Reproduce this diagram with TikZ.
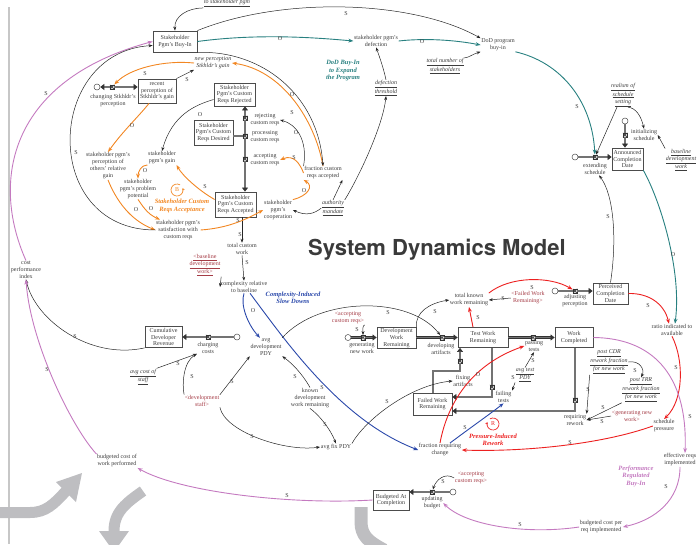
\documentclass[tikz,border=0pt]{standalone}
\usepackage{fontspec}
\setmainfont{Liberation Serif}
\newfontfamily\titlefont{TeX Gyre Heros}
\usetikzlibrary{arrows.meta}
\definecolor{tealc}{RGB}{40,128,128}
\definecolor{orgc}{RGB}{242,135,35}
\definecolor{pinkc}{RGB}{196,122,192}
\definecolor{redc}{RGB}{236,32,32}
\definecolor{bluec}{RGB}{42,72,170}
\definecolor{shc}{RGB}{165,60,70}
\definecolor{txtc}{RGB}{60,60,60}
\definecolor{bandc}{RGB}{190,190,193}
\definecolor{titlec}{RGB}{58,58,58}
\begin{document}
\begin{tikzpicture}[x=1pt,y=-1pt,
  txt/.style={align=center, inner sep=0.5pt, font=\fontsize{6}{7}\selectfont, text=txtc},
  itx/.style={txt, font=\fontsize{6}{7}\selectfont\itshape},
  und/.style={txt, font=\fontsize{6}{7}\selectfont\itshape},
  shadow/.style={txt, text=shc},
  loopt/.style={align=center, inner sep=0pt, font=\fontsize{6.5}{7.5}\selectfont\bfseries\itshape},
  stock/.style={draw=black!70, line width=0.8pt, fill=white, align=center, inner sep=1pt, font=\fontsize{6}{6.6}\selectfont, text=txtc},
  lbl/.style={inner sep=0pt, font=\fontsize{6}{6}\selectfont, text=txtc},
  arr/.style={draw=black!85, line width=0.5pt, -{Stealth[length=4pt,width=3pt]}},
  carr/.style={line width=0.9pt, -{Stealth[length=5pt,width=3.8pt]}},
  tarr/.style={carr, draw=tealc},
  oarr/.style={carr, draw=orgc},
  parr/.style={carr, draw=pinkc},
  rarr/.style={carr, draw=redc},
  barr/.style={carr, draw=bluec},
  pipeline/.style={draw=black!80, line width=0.6pt, double=black!55, double distance=1.1pt},
  pipe/.style={pipeline, -{Triangle[length=4pt,width=6pt]}},
  valve/.style={draw=black!80, fill=black!15, line width=0.4pt, inner sep=0pt, minimum width=4.5pt, minimum height=4.5pt, shape=rectangle,
    path picture={\draw[black!80, line width=0.5pt] (path picture bounding box.north west) -- (path picture bounding box.south east) (path picture bounding box.north east) -- (path picture bounding box.south west);}},
  sink/.style={circle, draw=black!70, line width=0.5pt, fill=white, inner sep=0pt, minimum size=6pt},
  band/.style={draw=bandc, line width=11pt}
]
\useasboundingbox (0,0) rectangle (698,544);

% background decorations
\draw[black!22, line width=1.3pt] (9,7) -- (9,544);
\draw[band] (0,512.5) -- (30,512.5) .. controls (46,512.5) and (54,504) .. (66,491);
\fill[bandc] (82,473) -- (56,482) -- (76,502) -- cycle;
\draw[band] (143,491) .. controls (126,503) and (114,512) .. (114,531);
\fill[bandc] (99,531) -- (129,531) -- (114,552) -- cycle;
\draw[band, line width=13pt] (361,507) -- (361,522) .. controls (361,536) and (369,542) .. (384,550);

% title
\node[anchor=base west, inner sep=0pt, font={\titlefont\fontsize{22}{24}\selectfont\bfseries}, text=titlec] (title) at (308,255) {System Dynamics Model};

% stocks
\node[stock, minimum width=44pt, minimum height=21pt] (buyin) at (175,41.5) {Stakeholder\\Pgm's Buy-In};
\node[stock, minimum width=38pt, minimum height=24pt] (recent) at (157,91) {recent\\perception of\\Stkhldr's gain};
\node[stock, minimum width=41pt, minimum height=23pt] (rejected) at (234.5,94.5) {Stakeholder\\Pgm's Custom\\Reqs Rejected};
\node[stock, minimum width=39pt, minimum height=25pt] (desired) at (213.5,132.5) {Stakeholder\\Pgm's Custom\\Reqs Desired};
\node[stock, minimum width=41pt, minimum height=25pt] (accepted) at (235.5,204.5) {Stakeholder\\Pgm's Custom\\Reqs Accepted};
\node[stock, minimum width=31pt, minimum height=22pt] (announced) at (627.5,159) {Announced\\Completion\\Date};
\node[stock, minimum width=35pt, minimum height=21pt] (perceived) at (610.5,293.5) {Perceived\\Completion\\Date};
\node[stock, minimum width=50pt, minimum height=20pt] (testbox) at (483,337.5) {Test Work\\Remaining};
\node[stock, minimum width=38pt, minimum height=20pt] (workcomp) at (574,337.5) {Work\\Completed};
\node[stock, minimum width=39pt, minimum height=21pt] (devbox) at (396.5,338) {Development\\Work\\Remaining};
\node[stock, minimum width=39pt, minimum height=22pt] (failedbox) at (432.5,404) {Failed Work\\Remaining};
\node[stock, minimum width=37pt, minimum height=21pt] (cumul) at (163.5,337) {Cumulative\\Developer\\Revenue};
\node[stock, minimum width=36pt, minimum height=20pt] (bac) at (391,500) {Budgeted At\\Completion};

% sinks and valves
\node[sink] (cloudA) at (625,121) {};
\node[valve] (vinit) at (625,135) {};
\node[sink] (cloudB) at (575,157) {};
\node[valve] (vext) at (595,157) {};
\node[sink] (cloudC) at (97,87) {};
\node[valve] (vchg) at (112,87) {};
\node[valve] (vrej) at (245,118) {};
\node[valve] (vproc) at (245,136) {};
\node[valve] (vacc) at (245,159) {};
\node[sink] (cloudD) at (237,337) {};
\node[valve] (vchgc) at (208,337) {};
\node[sink] (cloudE) at (453,492) {};
\node[valve] (vupd) at (432,492) {};
\node[sink] (cloudF) at (555,291) {};
\node[valve] (vadj) at (575,291) {};
\node[sink] (cloudG) at (348,337.5) {};
\node[valve] (vgen) at (363,337.5) {};
\node[valve] (vdev) at (442,337.5) {};
\node[valve] (vpass) at (533,337.5) {};
\node[valve] (vfix) at (460,361) {};
\node[valve] (vfail) at (492,387) {};
\node[valve] (vrew) at (575,400) {};
\coordinate (cfa) at (433,371);
\coordinate (cfb) at (460,371);
\coordinate (cfc) at (492,397);
\coordinate (cfd) at (575,411);

% variables
\node[und] (topsrc) at (227,3.5) {\underline{to stakeholder pgm}};
\node[txt] (defection) at (376,41) {stakeholder pgm's\\defection};
\node[txt] (dod) at (498,45) {DoD program\\buy-in};
\node[und] (totalstake) at (445,66) {\underline{total number of}\\\underline{stakeholders}};
\node[und] (defthresh) at (386,88) {\underline{defection}\\\underline{threshold}};
\node[loopt, text=tealc] (dodloop) at (343,71) {DoD Buy-In\\to Expand\\the Program};
\node[und] (realism) at (623,95) {\underline{realism of}\\\underline{schedule}\\\underline{setting}};
\node[txt] (initlbl) at (644,135) {initializing\\schedule};
\node[und] (baseline) at (681,160) {\underline{baseline}\\\underline{development}\\\underline{work}};
\node[txt] (extlbl) at (595,169) {extending\\schedule};
\node[itx] (newperc) at (213,63) {new perception\\Stkhldr's gain};
\node[txt] (chglbl) at (113,101) {changing Stkhldr's\\perception};
\node[txt] (percothers) at (108,166) {stakeholder pgm's\\perception of\\others' relative\\gain};
\node[txt] (gain) at (162,158) {stakeholder\\pgm's gain};
\node[txt] (problem) at (138,189) {stakeholder\\pgm's problem\\potential};
\node[txt, text=orgc] (bloop) at (177,190) {B};
\node[loopt, text=orgc] (accloop) at (182,206) {Stakeholder Custom\\Reqs Acceptance};
\node[txt] (satisf) at (178,230) {stakeholder pgm's\\satisfaction with\\custom reqs};
\node[txt] (rejlbl) at (265,120) {rejecting\\custom reqs};
\node[txt] (proclbl) at (265,137) {processing\\custom reqs};
\node[txt] (acclbl) at (265,160) {accepting\\custom reqs};
\node[txt] (fracacc) at (323,173) {fraction custom\\reqs accepted};
\node[txt] (coop) at (278,210) {stakeholder\\pgm's\\cooperation};
\node[und] (authority) at (333,208) {\underline{authority}\\\underline{mandate}};
\node[txt] (totalcw) at (242,249) {total custom\\work};
\node[txt] (complexity) at (244,287) {complexity relative\\to baseline};
\node[shadow] (baselineR) at (205,265) {\underline{<baseline}\\\underline{development}\\\underline{work>}};
\node[txt] (chargelbl) at (208,347.5) {charging\\costs};
\node[txt] (cpi) at (26,270) {cost\\performance\\index};
\node[und] (avgcost) at (143,377) {\underline{avg cost of}\\\underline{staff}};
\node[shadow] (devstaff) at (202,401) {<development\\staff>};
\node[txt] (avgdev) at (266,347) {avg\\development\\PDY};
\node[loopt, text=bluec] (complloop) at (293,298) {Complexity-Induced\\Slow Downs};
\node[txt] (known) at (310,398) {known\\development\\work remaining};
\node[txt] (avgfix) at (336,447) {avg fix PDY};
\node[txt] (bcwp) at (117,461) {budgeted cost of\\work performed};
\node[txt] (updlbl) at (432,503) {updating\\budget};
\node[shadow] (accR2) at (471,478) {<accepting\\custom reqs>};
\node[txt] (bcpr) at (601,527) {budgeted cost per\\req implemented};
\node[txt] (effreq) at (680,460) {effective reqs\\implemented};
\node[loopt, text=pinkc] (perfloop) at (636,476) {Performance\\Regulated\\Buy-In};
\node[txt] (schedpress) at (664,426) {schedule\\pressure};
\node[txt] (fracreq) at (440,450) {fraction requiring\\change};
\node[txt, text=redc] (rloop) at (493,424) {R};
\node[loopt, text=redc] (pressloop) at (493,440) {Pressure-Induced\\Rework};
\node[txt] (ratio) at (672,330) {ratio indicated to\\available};
\node[txt] (adjlbl) at (575,301) {adjusting\\perception};
\node[txt] (totalknown) at (469,300) {total known\\work remaining};
\node[shadow] (failedR) at (528,298) {<Failed Work\\Remaining>};
\node[txt] (passlbl) at (534,346) {passing\\tests};
\node[und] (avgtest) at (525,375) {\underline{avg test}\\\underline{PDY}};
\node[txt] (genlbl) at (362,348) {generating\\new work};
\node[shadow] (accR1) at (348,318) {<accepting\\custom reqs>};
\node[txt] (devlbl) at (441,349) {developing\\artifacts};
\node[txt] (fixlbl) at (463,381) {fixing\\artifacts};
\node[txt, anchor=west] (faillbl) at (495,397) {failing\\tests};
\node[txt] (reworklbl) at (575,420) {requiring\\rework};
\node[und] (postcdr) at (609,362) {\underline{post CDR}\\\underline{rework fraction}\\\underline{for new work}};
\node[und] (posttrr) at (641,390) {\underline{post TRR}\\\underline{rework fraction}\\\underline{for new work}};
\node[shadow] (genR) at (632,416) {<generating new\\work>};

% pipes
\draw[pipeline] (cloudA) -- (vinit);
\draw[pipe] (vinit) -- (announced.north -| vinit);
\draw[pipeline] (cloudB) -- (vext);
\draw[pipe] (vext) -- (announced.west |- vext);
\draw[pipe] (vchg) -- (cloudC);
\draw[pipe] (vchg) -- (recent.west |- vchg);
\draw[pipeline] (desired.east |- vproc) -- (vproc);
\draw[pipeline] (vproc) -- (vrej);
\draw[pipe] (vrej) -- (rejected.south -| vrej);
\draw[pipeline] (vproc) -- (vacc);
\draw[pipe] (vacc) -- (accepted.north -| vacc);
\draw[pipeline] (cloudD) -- (vchgc);
\draw[pipe] (vchgc) -- (cumul.east |- vchgc);
\draw[pipeline] (cloudE) -- (vupd);
\draw[pipe] (vupd) -- (bac.east |- vupd);
\draw[pipeline] (cloudF) -- (vadj);
\draw[pipe] (vadj) -- (perceived.west |- vadj);
\draw[pipeline] (cloudG) -- (vgen);
\draw[pipe] (vgen) -- (devbox.west |- vgen);
\draw[pipeline] (devbox.east |- vdev) -- (vdev);
\draw[pipe] (vdev) -- (testbox.west |- vdev);
\draw[pipeline] (testbox.east |- vpass) -- (vpass);
\draw[pipe] (vpass) -- (workcomp.west |- vpass);
\draw[pipeline] (failedbox.north -| cfa) -- (cfa) -- (cfb) -- (vfix);
\draw[pipe] (vfix) -- (testbox.south -| vfix);
\draw[pipeline] (testbox.south -| vfail) -- (vfail);
\draw[pipe] (vfail) -- (cfc) -- (failedbox.east |- cfc);
\draw[pipeline] (workcomp.south -| vrew) -- (vrew);
\draw[pipe] (vrew) -- (cfd) -- (failedbox.east |- cfd);

% loop symbols
\draw[orgc, line width=0.7pt, -{Stealth[length=2.5pt,width=2.5pt]}] ([shift={(60:6pt)}]bloop.center) arc[start angle=60, end angle=380, radius=6pt];
\draw[redc, line width=0.7pt, -{Stealth[length=2.5pt,width=2.5pt]}] ([shift={(120:6pt)}]rloop.center) arc[start angle=120, end angle=-200, radius=6pt];

% influences - top
\draw[arr] (topsrc.south west) .. controls (188,8) and (174,16) .. (buyin.north);
\draw[arr] (buyin.north east) .. controls (280,-3) and (410,-1) .. (dod.north west);
\draw[tarr] (buyin.east) .. controls (260,33) and (320,38) .. (defection.west);
\draw[tarr] (defection.east) .. controls (425,38) and (455,40) .. (dod.west);
\draw[arr] (totalstake.north east) .. controls (468,58) and (473,54) .. (dod.south west);
\draw[arr] (defthresh.north) .. controls (384,70) and (380,58) .. (defection.south);
\draw[arr] (authority.north east) .. controls (360,175) and (383,125) .. (defthresh.south);
\draw[tarr] (dod.south east) .. controls (560,62) and (592,100) .. (vext);
\draw[arr] ([xshift=-6pt]realism.south) -- (vext);
\draw[arr] ([xshift=5pt]realism.south) .. controls (636,108) and (641,116) .. (initlbl.north);
\draw[arr] (baseline.north west) -- (initlbl.east);
\draw[tarr] (announced.south east) .. controls (660,200) and (682,270) .. ([xshift=3pt]ratio.north);
\draw[arr] (perceived.north) .. controls (617,240) and (614,195) .. ([xshift=4pt]extlbl.south);
\draw[rarr] (perceived.east) .. controls (648,293) and (664,303) .. ([xshift=-3pt]ratio.north);
\draw[rarr] (ratio.south) .. controls (684,360) and (684,400) .. (schedpress.north);
\draw[parr] (workcomp.east) .. controls (650,338) and (688,372) .. ([xshift=5pt]effreq.north);
\draw[parr] (effreq.south) .. controls (680,500) and (655,520) .. (bcpr.east);
\draw[parr] (bcpr.west) .. controls (525,535) and (465,525) .. (updlbl.east);
\draw[rarr] (schedpress.west) .. controls (600,445) and (520,452) .. (fracreq.east);
\draw[rarr] (fracreq.north) .. controls (447,405) and (470,365) .. (passlbl.west);
\draw[barr] ([xshift=10pt]fracreq.north) .. controls (470,428) and (490,414) .. (faillbl.south);
\draw[barr] ([xshift=6pt]complexity.south) .. controls (285,340) and (340,420) .. (fracreq.west);
\draw[barr] (complexity.south) .. controls (240,305) and (248,325) .. ([xshift=-6pt]avgdev.north);
\draw[arr] (totalcw.south) -- (complexity.north);
\draw[arr] (accepted.south -| totalcw) -- (totalcw.north);
\draw[arr] (baselineR.south east) -- (complexity.west);
\draw[arr] (avgdev.north east) .. controls (320,296) and (410,296) .. (vdev);
\draw[arr] (known.north) .. controls (306,380) and (296,366) .. (avgdev.south east);
\draw[arr] (known.south) .. controls (318,414) and (330,428) .. (avgfix.north);
\draw[arr] (avgfix.north east) .. controls (365,420) and (410,385) .. (fixlbl.west);
\draw[arr] (devstaff.south east) .. controls (225,432) and (285,452) .. (avgfix.west);
\draw[arr] (devstaff.north east) -- (avgdev.south west);
\draw[arr] (devstaff.north west) .. controls (182,385) and (183,362) .. (chargelbl.south west);
\draw[arr] (avgcost.north east) -- (chargelbl.south west);
\draw[arr] (cumul.south west) .. controls (90,360) and (35,320) .. (cpi.south);
\draw[parr] (bcwp.north west) .. controls (70,425) and (30,340) .. (cpi.south);
\draw[parr] (cpi.north) .. controls (-10,180) and (10,80) .. (buyin.west);
\draw[parr] (bac.west) .. controls (290,505) and (180,492) .. (bcwp.south east);
\draw[arr] (accR2.west) .. controls (445,472) and (436,480) .. (vupd);
\draw[rarr] (totalknown.north east) .. controls (510,276) and (550,276) .. (vadj);
\draw[arr] (failedR.west) -- (totalknown.east);
\draw[rarr] ([xshift=-10pt]testbox.north) -- (totalknown.south);
\draw[arr] (devbox.north east) .. controls (415,312) and (430,303) .. (totalknown.west);
\draw[arr] (accR1.south east) .. controls (362,326) and (363,330) .. (vgen);
\draw[arr] (avgtest.north) -- (passlbl.south);
\draw[arr] (avgtest.south west) -- (faillbl.north east);
\draw[arr] (postcdr.east) .. controls (640,360) and (645,370) .. (posttrr.north);
\draw[arr] (postcdr.south west) -- (reworklbl.north east);
\draw[arr] (posttrr.south west) -- (reworklbl.east);
\draw[arr] (genR.west) -- (reworklbl.east);

% influences - stakeholder region
\draw[oarr] (newperc.west) .. controls (165,60) and (130,68) .. (vchg);
\draw[arr] (recent.north east) -- (newperc.south west);
\draw[oarr] ([xshift=-8pt]recent.south) .. controls (140,115) and (122,132) .. (percothers.north);
\draw[oarr] (fracacc.north) .. controls (315,120) and (282,70) .. (newperc.east);
\draw[arr] (buyin.south east) .. controls (262,50) and (318,95) .. (fracacc.north);
\draw[arr] (fracacc.north west) .. controls (308,140) and (296,124) .. (rejlbl.east);
\draw[oarr] (fracacc.west) .. controls (300,164) and (294,154) .. (acclbl.east);
\draw[oarr] (coop.north east) .. controls (308,196) and (314,186) .. (fracacc.south west);
\draw[arr] (authority.west) .. controls (314,214) and (306,216) .. (coop.east);
\draw[arr] (authority.north) -- (fracacc.south east);
\draw[oarr] (satisf.east) .. controls (228,228) and (245,220) .. (coop.west);
\draw[oarr] ([yshift=5pt]accepted.west) .. controls (198,190) and (182,175) .. (gain.south east);
\draw[arr] ([yshift=-5pt]rejected.west) .. controls (195,105) and (172,115) .. (gain.north);
\draw[oarr] (gain.south west) .. controls (141,165) and (138,172) .. (problem.north);
\draw[oarr] (percothers.south) .. controls (116,200) and (130,220) .. (satisf.west);
\draw[oarr] (problem.south) .. controls (142,205) and (147,214) .. ([xshift=-18pt]satisf.north);
\draw[arr] (satisf.west) .. controls (40,230) and (45,52) .. ([yshift=-4pt]buyin.west);

% polarity labels
\node[lbl] (s01) at (346,14) {S};
\node[lbl] (s02) at (280,39) {O};
\node[lbl] (s03) at (422,42) {O};
\node[lbl] (s04) at (577,107) {S};
\node[lbl] (s05) at (145,74) {S};
\node[lbl] (s06) at (187,80) {S};
\node[lbl] (s07) at (132,126) {O};
\node[lbl] (s08) at (46,94) {S};
\node[lbl] (s09) at (200,115) {O};
\node[lbl] (s10) at (292,95) {O};
\node[lbl] (s11) at (292,113) {S};
\node[lbl] (s12) at (296,133) {O};
\node[lbl] (s13) at (76,153) {S};
\node[lbl] (s14) at (145,171) {O};
\node[lbl] (s15) at (205,187) {S};
\node[lbl] (s16) at (136,210) {O};
\node[lbl] (s17) at (151,209) {O};
\node[lbl] (s18) at (294,158) {S};
\node[lbl] (s19) at (304,191) {O};
\node[lbl] (s20) at (238,221) {S};
\node[lbl] (s21) at (240,235) {S};
\node[lbl] (s22) at (247,263) {S};
\node[lbl] (s23) at (608,217) {S};
\node[lbl] (s24) at (673,255) {O};
\node[lbl] (s25) at (253,311) {O};
\node[lbl] (s26) at (322,388) {S};
\node[lbl] (s27) at (388,313) {S};
\node[lbl] (s28) at (295,377) {S};
\node[lbl] (s29) at (325,425) {S};
\node[lbl] (s30) at (387,402) {S};
\node[lbl] (s31) at (252,437) {S};
\node[lbl] (s32) at (232,382) {S};
\node[lbl] (s33) at (192,377) {S};
\node[lbl] (s34) at (178,364) {S};
\node[lbl] (s35) at (75,337) {S};
\node[lbl] (s36) at (47,370) {S};
\node[lbl] (s37) at (287,496) {S};
\node[lbl] (s38) at (443,482) {S};
\node[lbl] (s39) at (520,525) {S};
\node[lbl] (s40) at (666,487) {S};
\node[lbl] (s41) at (690,417) {S};
\node[lbl] (s42) at (676,368) {S};
\node[lbl] (s43) at (648,306) {S};
\node[lbl] (s44) at (570,443) {S};
\node[lbl] (s45) at (478,375) {O};
\node[lbl] (s46) at (465,428) {S};
\node[lbl] (s47) at (532,288) {S};
\node[lbl] (s48) at (503,299) {S};
\node[lbl] (s49) at (478,318) {S};
\node[lbl] (s50) at (435,312) {S};
\node[lbl] (s51) at (357,330) {S};
\node[lbl] (s52) at (533,361) {S};
\node[lbl] (s53) at (513,378) {S};
\node[lbl] (s54) at (635,371) {S};
\node[lbl] (s55) at (588,390) {S};
\node[lbl] (s56) at (603,408) {S};
\node[lbl] (s57) at (602,422) {S};
\end{tikzpicture}
\end{document}
